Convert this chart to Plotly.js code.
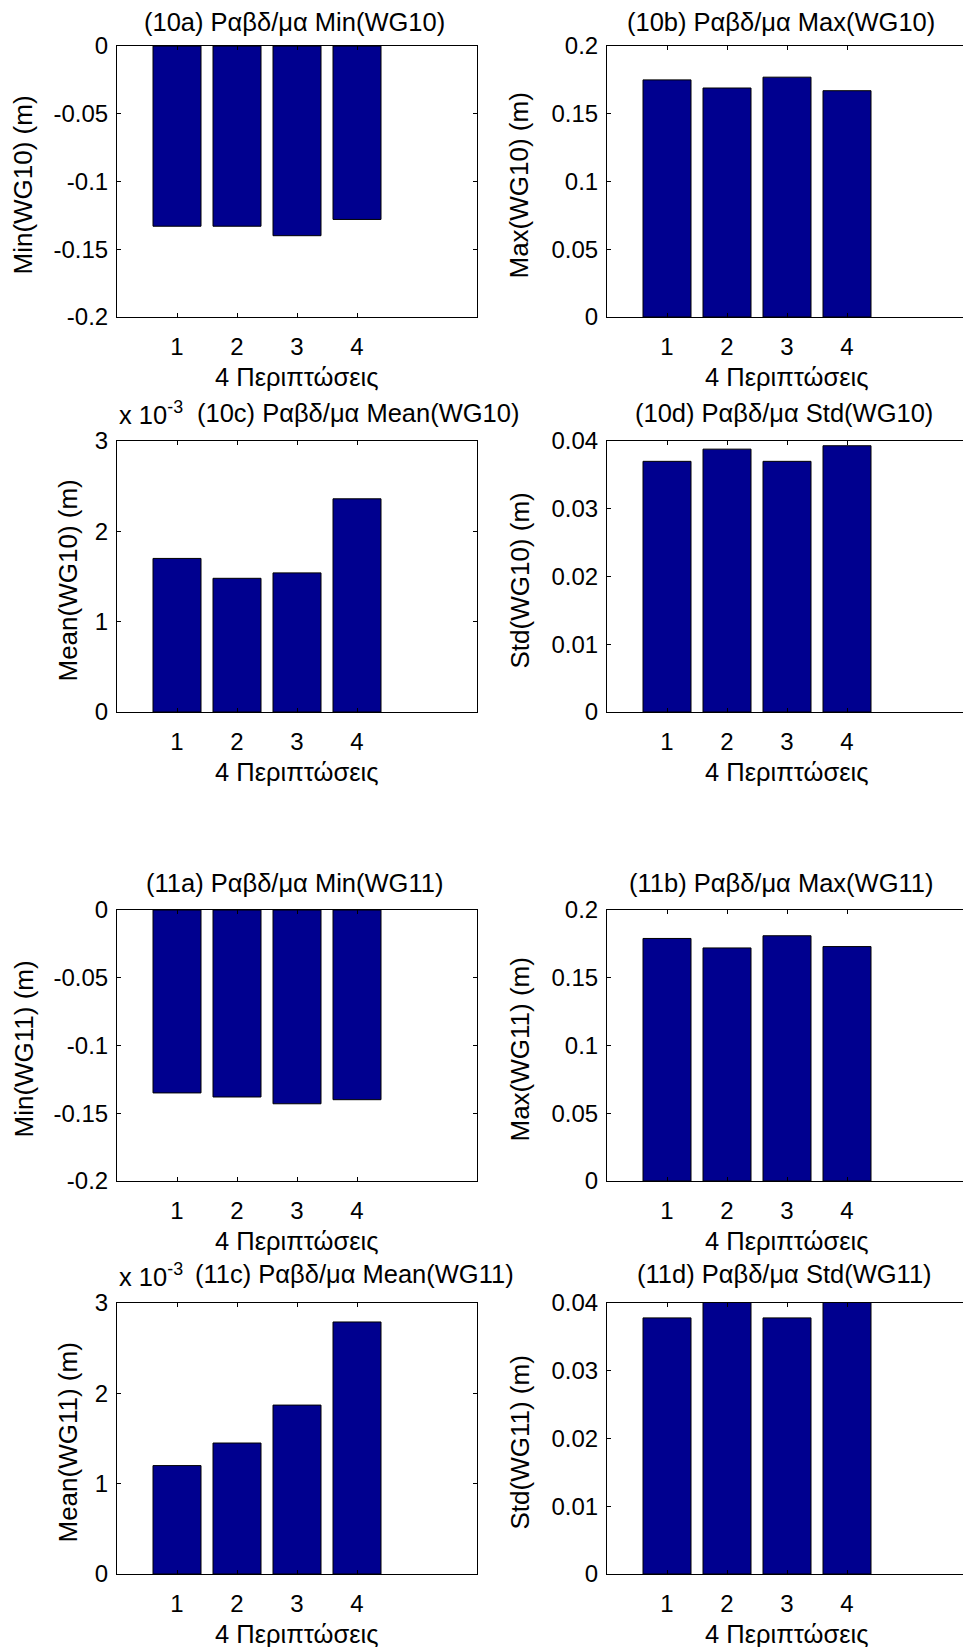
<!DOCTYPE html>
<html>
<head>
<meta charset="utf-8">
<script src="https://cdn.plot.ly/plotly-3.0.1.min.js"></script>
<style>
html,body{margin:0;padding:0;overflow:hidden;background:#fff;width:963px;height:1647px}
#chart{width:980px;height:1647px}
</style>
</head>
<body>
<div id="chart"></div>
<script>
// ---------- data ----------
const cases = [1, 2, 3, 4];
const caseTickLabels = ['1', '2', '3', '4'];
const xAxisLabel = '4 Περιπτώσεις';

const wg10Min  = [-0.133, -0.133, -0.140, -0.128];
const wg10Max  = [0.175, 0.169, 0.177, 0.167];
const wg10Mean = [0.00170, 0.00148, 0.00154, 0.00236];
const wg10Std  = [0.0370, 0.0388, 0.0370, 0.0393];

const wg11Min  = [-0.135, -0.138, -0.143, -0.140];
const wg11Max  = [0.179, 0.172, 0.181, 0.173];
const wg11Mean = [0.00120, 0.00145, 0.00187, 0.00279];
const wg11Std  = [0.0378, 0.0402, 0.0378, 0.0402];

const panelTitles = [
  '(10a) Ραβδ/μα Min(WG10)', '(10b) Ραβδ/μα Max(WG10)',
  '(10c) Ραβδ/μα Mean(WG10)', '(10d) Ραβδ/μα Std(WG10)',
  '(11a) Ραβδ/μα Min(WG11)', '(11b) Ραβδ/μα Max(WG11)',
  '(11c) Ραβδ/μα Mean(WG11)', '(11d) Ραβδ/μα Std(WG11)'
];
const panelYLabels = [
  'Min(WG10) (m)', 'Max(WG10) (m)', 'Mean(WG10) (m)', 'Std(WG10) (m)',
  'Min(WG11) (m)', 'Max(WG11) (m)', 'Mean(WG11) (m)', 'Std(WG11) (m)'
];
const exponentLabel = 'x 10<sup>-3</sup>';

const minTickVals  = [-0.2, -0.15, -0.1, -0.05, 0];
const minTickText  = ['-0.2', '-0.15', '-0.1', '-0.05', '0'];
const maxTickVals  = [0, 0.05, 0.1, 0.15, 0.2];
const maxTickText  = ['0', '0.05', '0.1', '0.15', '0.2'];
const meanTickVals = [0, 0.001, 0.002, 0.003];
const meanTickText = ['0', '1', '2', '3'];
const stdTickVals  = [0, 0.01, 0.02, 0.03, 0.04];
const stdTickText  = ['0', '0.01', '0.02', '0.03', '0.04'];

// ---------- layout (pixels) ----------
const W = 980, H = 1647;
const colLeft = [117, 607];
const plotW = 360;
const rowTop = [46, 441, 910, 1303];
const plotH = 271;
const titleCx = [294, 781, 358, 784, 294, 781, 354, 784];
const titleCy = [22, 22, 413, 413, 883, 883, 1274, 1274];
const yLabCx = [23, 519, 67, 519, 23, 519, 67, 519];

const series = [wg10Min, wg10Max, wg10Mean, wg10Std, wg11Min, wg11Max, wg11Mean, wg11Std];
const tickSets = [
  [minTickVals, minTickText, [-0.2, 0]],
  [maxTickVals, maxTickText, [0, 0.2]],
  [meanTickVals, meanTickText, [0, 0.003]],
  [stdTickVals, stdTickText, [0, 0.04]]
];

const FAMILY = '"Liberation Sans", Arial, sans-serif';
const TICKFONT = {family: FAMILY, size: 24, color: '#000'};
const TITLEFONT = {family: FAMILY, size: 25.5, color: '#000'};
const YLABFONT = {family: FAMILY, size: 26, color: '#000'};
const px = x => x / W;
const py = y => 1 - y / H;

const traces = [];
const layout = {
  width: W, height: H,
  margin: {l: 0, r: 0, t: 0, b: 0},
  paper_bgcolor: '#fff', plot_bgcolor: '#fff',
  showlegend: false,
  font: TICKFONT,
  annotations: []
};

series.forEach((vals, i) => {
  const n = i + 1;
  const col = i % 2;
  const row = Math.floor(i / 2);
  const kind = i % 4;
  const [tv, tt, rng] = tickSets[kind];
  const left = colLeft[col], top = rowTop[row];
  traces.push({
    type: 'bar',
    x: cases, y: vals,
    width: 0.8,
    xaxis: 'x' + (n === 1 ? '' : n),
    yaxis: 'y' + (n === 1 ? '' : n),
    marker: {color: '#00008F', line: {color: '#000', width: 1}},
    hoverinfo: 'x+y'
  });
  const xa = {
    domain: [px(left), px(left + plotW)],
    range: [0, 6],
    tickmode: 'array', tickvals: cases, ticktext: caseTickLabels,
    ticks: 'inside', ticklen: 4, tickwidth: 1, tickcolor: '#000',
    showline: true, linecolor: '#000', linewidth: 1, mirror: 'ticks',
    showgrid: false, zeroline: false, fixedrange: true,
    ticklabelstandoff: 8,
    tickfont: TICKFONT,
    anchor: 'y' + (n === 1 ? '' : n)
  };
  const ya = {
    domain: [py(top + plotH), py(top)],
    range: rng,
    tickmode: 'array', tickvals: tv, ticktext: tt,
    ticks: 'inside', ticklen: 4, tickwidth: 1, tickcolor: '#000',
    showline: true, linecolor: '#000', linewidth: 1, mirror: 'ticks',
    showgrid: false, zeroline: false, fixedrange: true,
    ticklabelstandoff: 3,
    tickfont: TICKFONT,
    anchor: 'x' + (n === 1 ? '' : n)
  };
  layout['xaxis' + (n === 1 ? '' : n)] = xa;
  layout['yaxis' + (n === 1 ? '' : n)] = ya;

  // subplot title
  layout.annotations.push({
    text: panelTitles[i], showarrow: false, font: TITLEFONT,
    xref: 'paper', yref: 'paper',
    x: px(titleCx[i]), y: py(titleCy[i]), xanchor: 'center', yanchor: 'middle'
  });
  // x-axis title
  layout.annotations.push({
    text: xAxisLabel, showarrow: false, font: TITLEFONT,
    xref: 'paper', yref: 'paper',
    x: px(left + plotW / 2), y: py(top + plotH + 60), xanchor: 'center', yanchor: 'middle'
  });
  // y-axis title
  layout.annotations.push({
    text: panelYLabels[i], showarrow: false, font: YLABFONT, textangle: -90,
    xref: 'paper', yref: 'paper',
    x: px(yLabCx[i]), y: py(top + plotH / 2 + 4), xanchor: 'center', yanchor: 'middle'
  });
  // exponent label for mean panels
  if (kind === 2) {
    layout.annotations.push({
      text: exponentLabel, showarrow: false, font: TITLEFONT,
      xref: 'paper', yref: 'paper',
      x: px(left), y: py(top - 10), xanchor: 'left', yanchor: 'bottom'
    });
  }
});

Plotly.newPlot('chart', traces, layout, {displayModeBar: false, staticPlot: true});
</script>
</body>
</html>
